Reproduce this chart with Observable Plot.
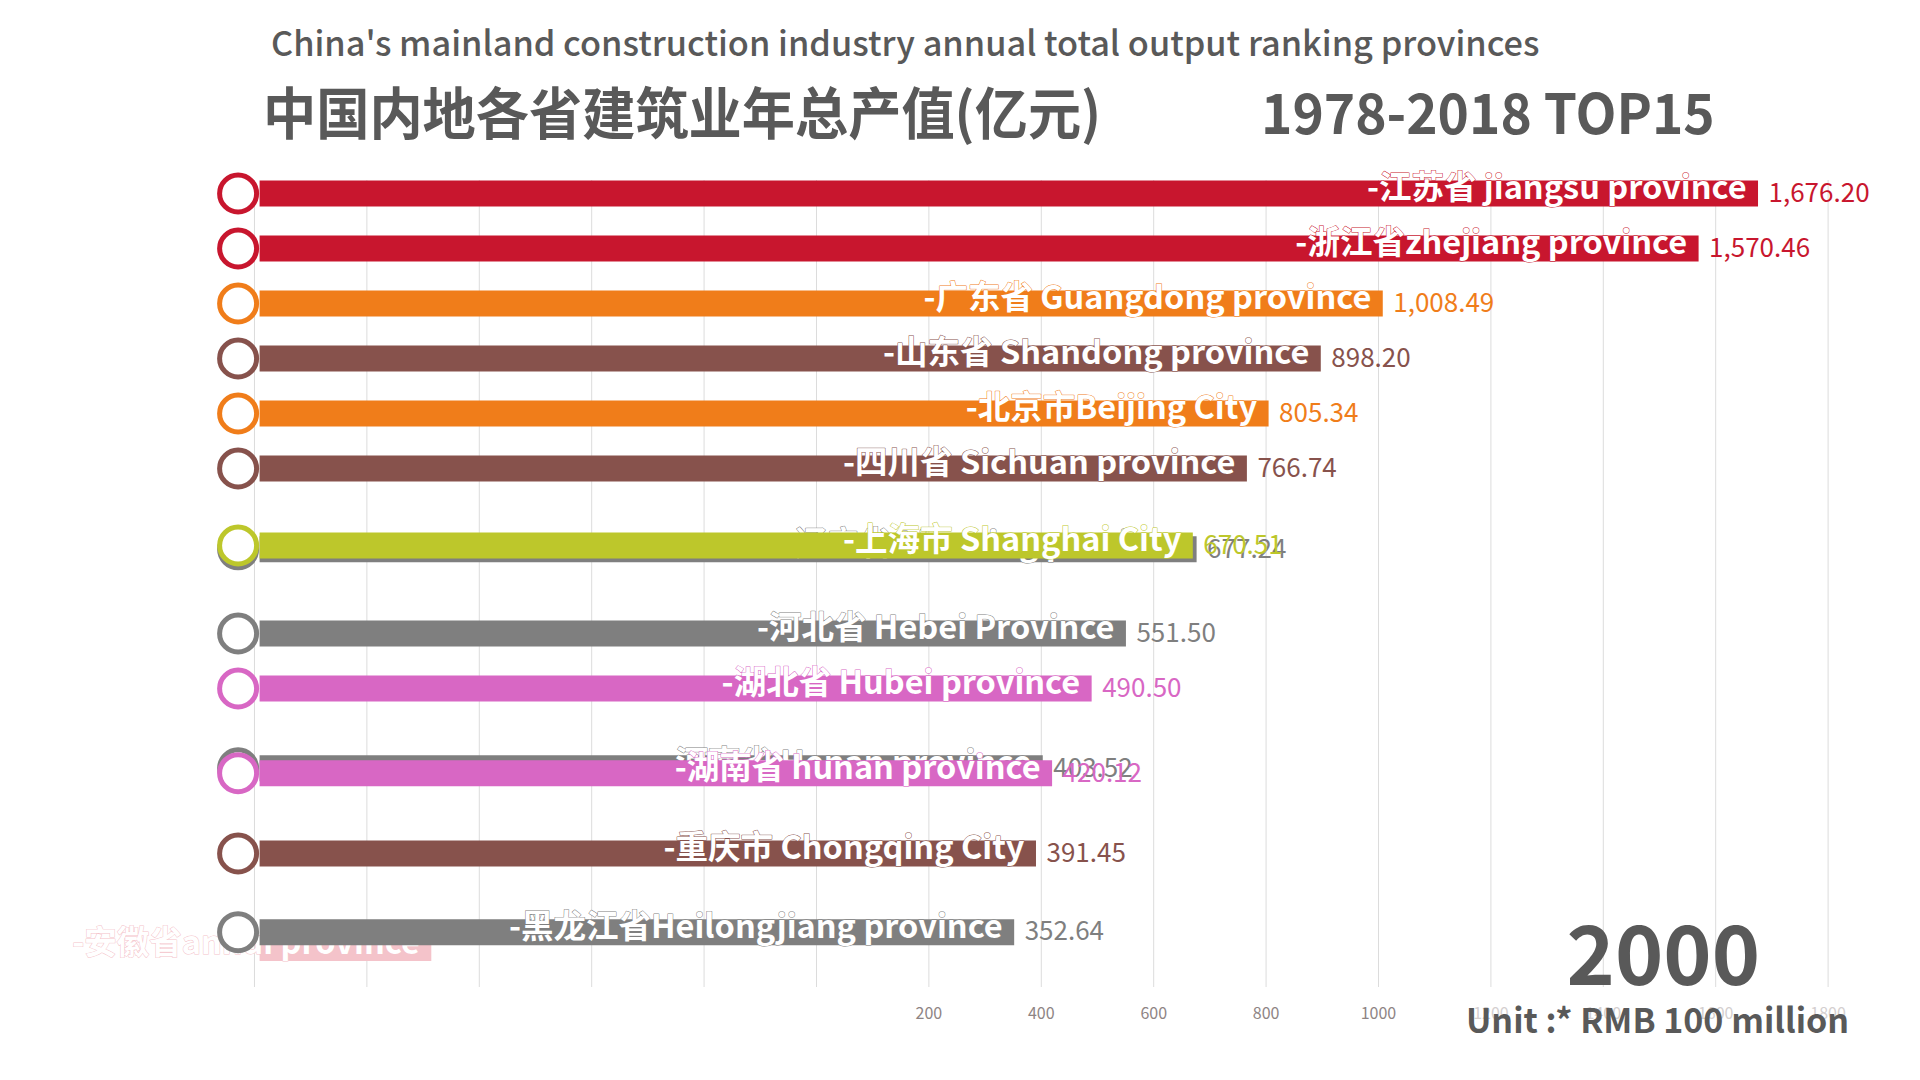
<!DOCTYPE html>
<html>
<head>
<meta charset="utf-8">
<script src="https://cdn.jsdelivr.net/npm/d3@7"></script>
<script src="https://cdn.jsdelivr.net/npm/@observablehq/plot@0.6"></script>
<style>
  html, body { margin: 0; padding: 0; background: #fff; }
  body { width: 1920px; height: 1080px; overflow: hidden; font-family: "Noto Sans CJK SC", "Noto Sans", sans-serif; }
  #header { position: relative; width: 1920px; height: 140px; color: #595959; }
  #sub { position: absolute; left: 271px; top: 24px; font-size: 34.3px; font-weight: 500; line-height: 1; white-space: nowrap; }
  #title { position: absolute; left: 263px; top: 82px; font-size: 56px; font-weight: 700; line-height: 1; white-space: nowrap; transform: scaleX(0.95); transform-origin: left center; }
  #range { position: absolute; left: 1261px; top: 82px; font-size: 56px; font-weight: 700; line-height: 1; white-space: nowrap; transform: scaleX(0.95); transform-origin: left center; }
  #chart svg { display: block; }
</style>
</head>
<body>
<div id="header">
  <div id="sub">China's mainland construction industry annual total output ranking provinces</div>
  <div id="title">中国内地各省建筑业年总产值(亿元)</div>
  <div id="range">1978-2018 TOP15</div>
</div>
<div id="chart"></div>
<script>
// ---- data (frame of year 2000) ----
const year = 2000;
const names = ["江苏","浙江","广东","山东","北京","四川","辽宁","上海","河北","湖北","河南","湖南","重庆","黑龙江","安徽"];
const labels = [
  "-江苏省 jiangsu province",
  "-浙江省zhejiang province",
  "-广东省 Guangdong province",
  "-山东省 Shandong province",
  "-北京市Beijing City",
  "-四川省 Sichuan province",
  "-辽宁省 Liaoning province",
  "-上海市 Shanghai City",
  "-河北省 Hebei Province",
  "-湖北省 Hubei province",
  "-河南省 Henan province",
  "-湖南省 hunan province",
  "-重庆市 Chongqing City",
  "-黑龙江省Heilongjiang province",
  "-安徽省anhui province"
];
const values = [1676.20, 1570.46, 1008.49, 898.20, 805.34, 766.74, 677.24, 670.51, 551.50, 490.50, 403.52, 420.12, 391.45, 352.64, 398.67];
// position in the ranking at this moment of the animation (fractional while swapping)
const ranks = [1, 2, 3, 4, 5, 6, 7.47, 7.4, 9, 10, 11.45, 11.54, 13, 14.43, 14.72];
// how far each bar has grown in (Anhui is just entering)
const growth = [1, 1, 1, 1, 1, 1, 1, 1, 1, 1, 1, 1, 1, 1, 0.22];
// bars drawn underneath the others during the swap
const behind = ["辽宁", "河南", "安徽"];
const fading = ["安徽"];
const palette = ["#C8162E","#C8162E","#F07D1A","#87524C","#F07D1A","#87524C","#7F7F7F","#BDC72B","#7F7F7F","#D867C4","#7F7F7F","#D867C4","#87524C","#7F7F7F","#F4C3CA"];
const tickLabels = [200, 400, 600, 800, 1000, 1200, 1400, 1600, 1800];
const gridTicks = [-1000, -800, -600, -400, -200, 0, 200, 400, 600, 800, 1000, 1200, 1400, 1600, 1800];
const unitText = "Unit :* RMB 100 million";

// ---- build table ----
const BASE = -990;
const rows = names.map((n, i) => ({
  name: n, label: labels[i], value: values[i], rank: ranks[i],
  end: BASE + (values[i] - BASE) * growth[i]
}));
const back = rows.filter(d => behind.includes(d.name));
const front = rows.filter(d => !behind.includes(d.name));
const font = "'Noto Sans CJK SC', 'Noto Sans', sans-serif";
const fmt = d3.format(",.2f");

function layer(data) {
  const solid = data.filter(d => !fading.includes(d.name));
  return [
    Plot.ruleY(data, {y: "rank", x1: BASE, x2: "end", stroke: "name", strokeWidth: 26}),
    Plot.dot(solid, {x: BASE, y: "rank", r: 18.5, dx: -22, stroke: "name", strokeWidth: 5, fill: "white"}),
    Plot.text(data, {x: "end", y: "rank", text: "label", textAnchor: "end", dx: -12, dy: -5,
      fill: "white", stroke: "name", strokeWidth: 1, paintOrder: "stroke",
      fontSize: 32.5, fontWeight: 700, fontFamily: font}),
    Plot.text(solid, {x: "end", y: "rank", text: d => fmt(d.value), textAnchor: "start", dx: 10,
      fill: "name", fontSize: 26, fontWeight: 400, fontFamily: font})
  ];
}

const chart = Plot.plot({
  width: 1920,
  height: 940,
  marginLeft: 259.6,
  marginRight: 92.4,
  marginTop: 40,
  marginBottom: 93,
  x: {domain: [BASE, 1800], axis: null},
  y: {type: "linear", domain: [0.7636, 15.436], reverse: true, axis: null},
  color: {domain: names, range: palette},
  style: {fontFamily: font, background: "white"},
  marks: [
    Plot.ruleX(gridTicks, {x: d => d, stroke: "#dcdcdc", strokeWidth: 1}),
    ...layer(back),
    ...layer(front),
    Plot.text(tickLabels, {x: d => d, frameAnchor: "bottom", lineAnchor: "middle", dy: 26, text: d => String(d),
      fill: d => d >= 1200 ? "#d4cfcf" : "#8e8484", fontSize: 16, fontFamily: font}),
    Plot.text([year], {frameAnchor: "bottom-right", lineAnchor: "middle", text: d => String(d), textAnchor: "end",
      dx: -68, dy: -29, fontSize: 82, fontWeight: 700, fill: "#595959", fontFamily: font}),
    Plot.text([unitText], {frameAnchor: "bottom-right", lineAnchor: "middle", text: d => d, textAnchor: "end",
      dx: 21, dy: 35, fontSize: 34, fontWeight: 700, fill: "#595959", fontFamily: font})
  ]
});
document.getElementById("chart").appendChild(chart);
</script>
</body>
</html>
